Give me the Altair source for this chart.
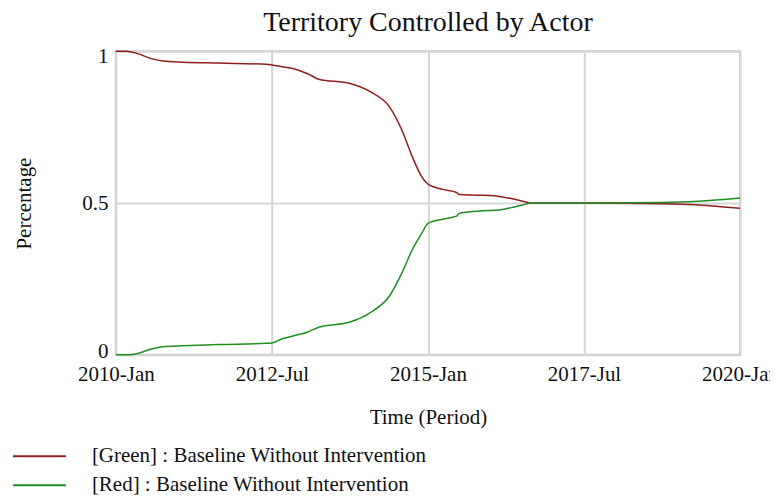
import altair as alt
import pandas as pd

months = [0, 2, 4, 7, 9, 13, 20, 29, 30, 32, 34, 37, 39, 45, 49, 52.6, 55, 57, 58.8, 60,
          62.8, 65.5, 66, 70, 74, 76, 78, 80, 90, 105, 112, 120]
red_curve = [1.0, 1.0, 0.993, 0.975, 0.968, 0.964, 0.961, 0.957, 0.955, 0.949, 0.943, 0.925,
             0.908, 0.894, 0.866, 0.817, 0.74, 0.652, 0.587, 0.5625, 0.545, 0.535, 0.528,
             0.526, 0.521, 0.515, 0.507, 0.5, 0.5, 0.498, 0.494, 0.483]
green_curve = [0.0, 0.0, 0.004, 0.02, 0.027, 0.03, 0.034, 0.038, 0.039, 0.053, 0.062, 0.076,
               0.091, 0.108, 0.14, 0.194, 0.27, 0.347, 0.40, 0.433, 0.447, 0.457, 0.466,
               0.474, 0.478, 0.485, 0.493, 0.5, 0.5, 0.502, 0.506, 0.517]
series_names = ["[Green] : Baseline Without Intervention", "[Red] : Baseline Without Intervention"]
series_colors = ["#8f1f1f", "#1f8f1f"]
tick_values = [0, 30, 60, 90, 120]
tick_labels = ["2010-Jan", "2012-Jul", "2015-Jan", "2017-Jul", "2020-Jan"]

rows = []
for m, a, b in zip(months, red_curve, green_curve):
    rows.append({"t": m, "v": a, "s": series_names[0]})
    rows.append({"t": m, "v": b, "s": series_names[1]})
df = pd.DataFrame(rows)

label_expr = " : ".join(
    f"datum.value == {v} ? '{l}'" for v, l in zip(tick_values, tick_labels)
) + " : ''"

FONT = "Liberation Serif"
FS = 21

chart = alt.Chart(df).mark_line(strokeWidth=1.5, interpolate="monotone").encode(
    x=alt.X("t:Q", scale=alt.Scale(domain=[0, 120], nice=False, zero=False),
            axis=alt.Axis(values=tick_values, labelExpr=label_expr, title="Time (Period)",
                          ticks=False, domain=False, labelPadding=9, labelFontSize=FS,
                          labelFont=FONT, labelColor="#111", titleFont=FONT, titleFontSize=FS,
                          titleFontWeight="normal", titleColor="#111", titlePadding=22,
                          labelFlush=False, gridColor="#d6d6d6", gridWidth=2)),
    y=alt.Y("v:Q", scale=alt.Scale(domain=[0, 1], nice=False),
            axis=alt.Axis(values=[0, 0.5, 1], format="~g", title="Percentage", ticks=False,
                          domain=False, labelPadding=8, labelFontSize=FS, labelFont=FONT,
                          labelColor="#111", titleFont=FONT, titleFontSize=FS,
                          titleFontWeight="normal", titleColor="#111", titlePadding=47,
                          labelOffset=alt.ExprRef(expr="datum.value == 1 ? 5 : (datum.value == 0 ? -3 : 0)"),
                          labelFlush=False, gridColor="#d6d6d6", gridWidth=2)),
    color=alt.Color("s:N", scale=alt.Scale(domain=series_names, range=series_colors),
                    legend=alt.Legend(title=None, orient="none", legendX=-104, legendY=395,
                                      symbolType="stroke", symbolSize=2809, symbolStrokeWidth=2,
                                      labelFont=FONT, labelFontSize=FS, labelColor="#111",
                                      labelOffset=25, clipHeight=21, rowPadding=7,
                                      labelLimit=500)),
).properties(
    width=625, height=304,
    title=alt.TitleParams("Territory Controlled by Actor", font=FONT, fontSize=28,
                          fontWeight="normal", color="#111", offset=8, anchor="middle"),
    autosize=alt.AutoSizeParams(type="none"),
    padding={"left": 108, "top": 43, "right": 30, "bottom": 140},
).configure_view(stroke="#c8c8c8", strokeWidth=2)

chart.save("out.html", embed_options={"renderer": "svg", "actions": False})
